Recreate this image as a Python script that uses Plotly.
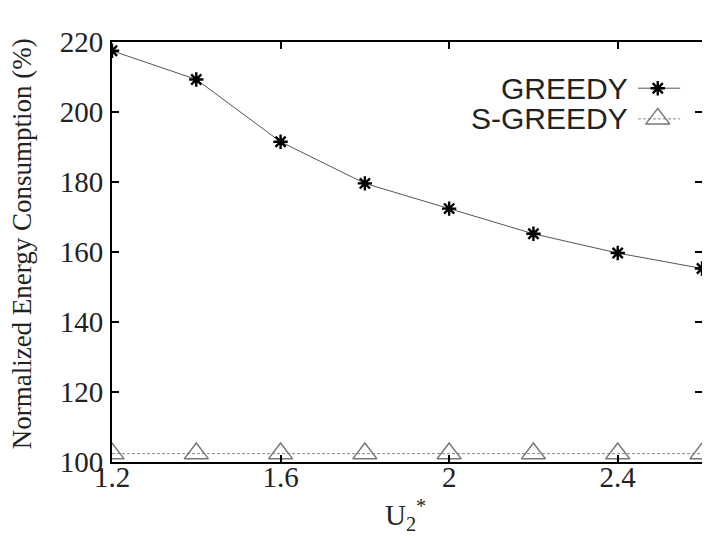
import plotly.graph_objects as go

x_vals = [1.2, 1.4, 1.6, 1.8, 2.0, 2.2, 2.4, 2.6]
greedy = [217.5, 209.3, 191.5, 179.6, 172.4, 165.2, 159.7, 155.3]
s_greedy = [102.4, 102.4, 102.4, 102.4, 102.4, 102.4, 102.4, 102.4]
x_ticks = [1.2, 1.6, 2.0, 2.4]
x_tick_labels = ["1.2", "1.6", "2", "2.4"]
y_ticks = [100, 120, 140, 160, 180, 200, 220]
series_names = ["GREEDY", "S-GREEDY"]
x_title = "U<sub>2</sub><sup>*</sup>"
y_title = "Normalized Energy Consumption (%)"

# legend key geometry (in an overlay 0..1 axis), text placed to the left of key
key_x = [0.8915, 0.925, 0.963]
key_y = [0.890, 0.817]

greedy_line = dict(color="#555555", width=1)
greedy_marker = dict(symbol="asterisk-open", size=12, color="black",
                     line=dict(color="black", width=2.4))
sg_line = dict(color="#888888", width=1, dash="3px,2px")
sg_marker = dict(symbol="triangle-up-open", size=21, color="#777777",
                 line=dict(color="#777777", width=1.5))

fig = go.Figure()
fig.add_trace(go.Scatter(x=x_vals, y=greedy, name=series_names[0], mode="lines+markers",
                         line=greedy_line, marker=greedy_marker, showlegend=False))
fig.add_trace(go.Scatter(x=x_vals, y=s_greedy, name=series_names[1], mode="lines+markers",
                         line=sg_line, marker=sg_marker, showlegend=False))

# legend keys (line segment with a marker in the middle)
for yk, ln, mk, nm in [(key_y[0], greedy_line, greedy_marker, series_names[0]),
                       (key_y[1], sg_line, sg_marker, series_names[1])]:
    fig.add_trace(go.Scatter(x=[key_x[0], key_x[2]], y=[yk, yk], mode="lines",
                             line=ln, xaxis="x2", yaxis="y2", showlegend=False,
                             hoverinfo="skip"))
    fig.add_trace(go.Scatter(x=[key_x[1]], y=[yk], mode="markers", marker=mk,
                             xaxis="x2", yaxis="y2", showlegend=False,
                             hoverinfo="skip", name=nm))

axis_common = dict(
    showgrid=False, zeroline=False, showline=True, linecolor="black",
    linewidth=2, mirror="ticks", ticks="inside", ticklen=7, tickwidth=1.5,
    tickcolor="black", automargin=False,
    tickfont=dict(family="Liberation Serif", size=29, color="#222222"),
)

txt = dict(color="#222222")
fig.update_layout(
    width=702, height=530,
    margin=dict(l=104, r=8, t=34, b=76),
    paper_bgcolor="white", plot_bgcolor="white",
    xaxis=dict(range=[1.2, 2.6], tickvals=x_ticks, ticktext=x_tick_labels,
               ticklabelstandoff=-12, **axis_common),
    yaxis=dict(range=[100, 220], tickvals=y_ticks, ticklabelstandoff=1, **axis_common),
    xaxis2=dict(overlaying="x", range=[0, 1], visible=False),
    yaxis2=dict(overlaying="y", range=[0, 1], visible=False),
    annotations=[
        dict(text=series_names[0], xref="paper", yref="paper", x=0.878, y=key_y[0],
             xanchor="right", yanchor="middle", showarrow=False,
             font=dict(family="Liberation Sans", size=30, **txt)),
        dict(text=series_names[1], xref="paper", yref="paper", x=0.878, y=key_y[1],
             xanchor="right", yanchor="middle", showarrow=False,
             font=dict(family="Liberation Sans", size=30, **txt)),
        dict(text=y_title, xref="paper", yref="paper", x=-0.153, y=0.52,
             xanchor="center", yanchor="middle", textangle=-90, showarrow=False,
             font=dict(family="Liberation Serif", size=27, **txt)),
        dict(text=x_title, xref="paper", yref="paper", x=0.498, y=-0.125,
             xanchor="center", yanchor="middle", showarrow=False,
             font=dict(family="Liberation Serif", size=29, **txt)),
    ],
    showlegend=False,
)

fig.write_html("out.html")
